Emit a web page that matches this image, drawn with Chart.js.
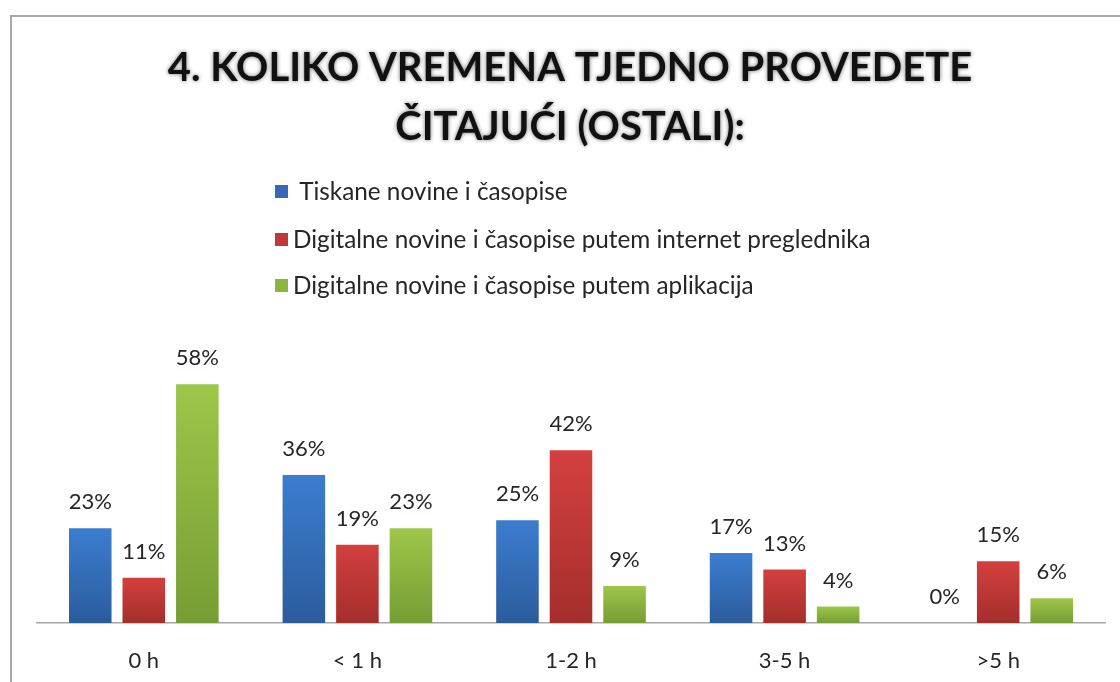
<!DOCTYPE html>
<html>
<head>
<meta charset="utf-8">
<script src="https://cdn.jsdelivr.net/npm/chart.js@4.4.1/dist/chart.umd.min.js"></script>
<style>
  html, body { margin: 0; padding: 0; background: #fff; }
  #wrap { position: relative; width: 1120px; height: 682px; }
  #frame { position: absolute; left: 10px; top: 15px; right: 0; bottom: 0; border-left: 2px solid #a8a8a8; border-top: 2px solid #a8a8a8; }
  canvas { position: absolute; left: 0; top: 0; }
</style>
</head>
<body>
<div id="wrap">
  <div id="frame"></div>
  <canvas id="chart" width="1120" height="682"></canvas>
</div>
<script>
// data
const categories = ['0 h', '< 1 h', '1-2 h', '3-5 h', '>5 h'];
const tiskane = [23, 36, 25, 17, 0];
const preglednik = [11, 19, 42, 13, 15];
const aplikacije = [58, 23, 9, 4, 6];
const seriesNames = [
  ' Tiskane novine i časopise',
  'Digitalne novine i časopise putem internet preglednika',
  'Digitalne novine i časopise putem aplikacija'
];
const titleLines = ['4. KOLIKO VREMENA TJEDNO PROVEDETE', 'ČITAJUĆI (OSTALI):'];

const FONT = "Lato, 'Open Sans', sans-serif";
const legendColors = ['#3569b8', '#c0393a', '#8cb53f'];

// vertical gradient per bar, like the old office look
function barFill(top, bottom) {
  return (ctx) => {
    const chart = ctx.chart;
    const y = chart.scales && chart.scales.y;
    if (!y || ctx.type !== 'data') return bottom;
    const yTop = y.getPixelForValue(ctx.raw);
    const yBase = y.getPixelForValue(0);
    if (!isFinite(yTop) || yTop >= yBase) return bottom;
    const g = chart.ctx.createLinearGradient(0, yTop, 0, yBase);
    g.addColorStop(0, top);
    g.addColorStop(1, bottom);
    return g;
  };
}

const headerPlugin = {
  id: 'header',
  afterDraw(chart) {
    const c = chart.ctx;
    c.save();
    // title with soft dark halo
    c.font = 'bold 40px ' + FONT;
    c.textAlign = 'center';
    c.textBaseline = 'middle';
    c.fillStyle = '#111';
    c.shadowColor = 'rgba(0,0,0,0.55)';
    c.shadowBlur = 4;
    c.fillText(titleLines[0], 570, 68);
    c.fillText(titleLines[1], 570, 127);
    c.shadowBlur = 0;
    c.shadowColor = 'transparent';

    // legend, one item per row
    c.font = '24.3px ' + FONT;
    c.textAlign = 'left';
    const rows = [192, 240, 286];
    chart.data.datasets.forEach((ds, i) => {
      c.fillStyle = legendColors[i];
      c.fillRect(275, rows[i] - 7, 13, 13);
      c.fillStyle = '#262626';
      c.fillText(ds.label, 293, rows[i]);
    });
    c.restore();
  }
};

const valueLabels = {
  id: 'valueLabels',
  afterDatasetsDraw(chart) {
    const c = chart.ctx;
    c.save();
    c.font = '22px ' + FONT;
    c.fillStyle = '#262626';
    c.textAlign = 'center';
    c.textBaseline = 'middle';
    chart.data.datasets.forEach((ds, i) => {
      chart.getDatasetMeta(i).data.forEach((bar, j) => {
        c.fillText(ds.data[j] + '%', bar.x, bar.y - 26);
      });
    });
    c.restore();
  }
};

new Chart(document.getElementById('chart'), {
  type: 'bar',
  data: {
    labels: categories,
    datasets: [
      { label: seriesNames[0], data: tiskane, backgroundColor: barFill('#3c7dd0', '#2b5c9c') },
      { label: seriesNames[1], data: preglednik, backgroundColor: barFill('#d3403e', '#a42e2c') },
      { label: seriesNames[2], data: aplikacije, backgroundColor: barFill('#9dc64a', '#769d33') }
    ]
  },
  options: {
    responsive: false,
    animation: false,
    categoryPercentage: 0.752,
    barPercentage: 0.795,
    layout: { padding: { left: 37, right: 15, top: 335, bottom: 0 } },
    plugins: {
      legend: { display: false },
      title: { display: false },
      tooltip: { enabled: false }
    },
    scales: {
      x: {
        grid: { display: false, drawTicks: false },
        border: { display: true, color: '#a6a6a6', width: 1.5 },
        ticks: { color: '#262626', padding: 25, font: { family: FONT, size: 22 } },
        afterFit(scale) { scale.height = 59; }
      },
      y: { display: false, min: 0, max: 70 }
    }
  },
  plugins: [headerPlugin, valueLabels]
});
</script>
</body>
</html>
